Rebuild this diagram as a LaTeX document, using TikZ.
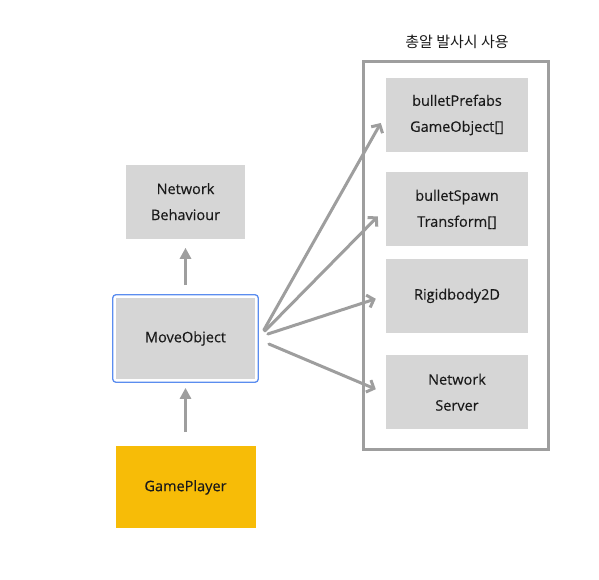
\documentclass[tikz,border=0pt]{standalone}
\usepackage{fontspec}
\setmainfont{Open Sans}[FakeBold=0.35]
\newfontfamily\krfont{Noto Sans CJK KR}
\usetikzlibrary{positioning}
\usetikzlibrary{fit}
\usetikzlibrary{arrows.meta}
\definecolor{boxgray}{HTML}{D6D6D6}
\definecolor{linegray}{HTML}{9E9E9E}
\definecolor{selblue}{HTML}{5B8DEF}
\definecolor{playeryellow}{HTML}{F7BC07}
\definecolor{textdark}{HTML}{1A1A1A}

\begin{document}
\begin{tikzpicture}
  [
    x=1pt,y=-1pt,
    font=\fontsize{14.5}{26}\selectfont,
    entity/.style={
      rectangle,
      fill=boxgray,
      text=textdark,
      inner sep=0pt,
      minimum height=74pt,minimum width=142pt,
      align=center
    },
    uparrow/.style={draw=linegray,line width=3pt,-{Triangle[width=11pt,length=11pt]}},
    outarrow/.style={draw=linegray,line width=3pt,line cap=round,
                     -{Straight Barb[width=13pt,length=6pt]}},
  ]
  \useasboundingbox (0,0) rectangle (599,580);

  % left column
  \node[entity,minimum width=139pt,minimum height=81pt] at (185.5,338.5) (move-obj) {MoveObject};
  \node[fit=(move-obj),inner sep=3pt,draw=selblue,line width=1.3pt,rounded corners=3pt] (sel) {};
  \node[entity,minimum width=119pt,above=59pt of move-obj] (net-beh) {Network\\Behaviour};
  \node[entity,fill=playeryellow,minimum width=140pt,minimum height=82pt,below=67pt of move-obj] (game-player) {GamePlayer};

  \draw[uparrow,shorten <=9pt,shorten >=9pt] (sel) -- (net-beh);
  \draw[uparrow,shorten <=14pt,shorten >=5pt] (game-player) -- (sel);

  % right column
  \node[entity] at (457,115) (bullet-prefabs) {bulletPrefabs\\GameObject[]};
  \node[entity,below=20pt of bullet-prefabs] (bullet-spawn) {bulletSpawn\\Transform[]};
  \node[entity,below=12pt of bullet-spawn] (rigidbody) {Rigidbody2D};
  \node[entity,below=22pt of rigidbody] (net-server) {Network\\Server};

  \node[draw=linegray,line width=3pt,minimum width=185pt,minimum height=387pt] at (455.5,255.5) (frame) {};
  \node[font=\krfont\fontsize{15}{18}\selectfont,text=textdark] at (457,42) (title) {총알 발사시 사용};

  \draw[outarrow] ([xshift=5pt,yshift=8.5pt]sel.east) -- ([xshift=-5pt,yshift=-8pt]bullet-prefabs.west);
  \draw[outarrow] ([xshift=6pt,yshift=7.5pt]sel.east) -- ([xshift=-8pt,yshift=-7pt]bullet-spawn.west);
  \draw[outarrow] ([xshift=9pt,yshift=4.5pt]sel.east) -- ([xshift=-10pt,yshift=-3pt]rigidbody.west);
  \draw[outarrow] ([xshift=10pt,yshift=-5.5pt]sel.east) -- ([xshift=-10pt,yshift=3pt]net-server.west);
\end{tikzpicture}
\end{document}
